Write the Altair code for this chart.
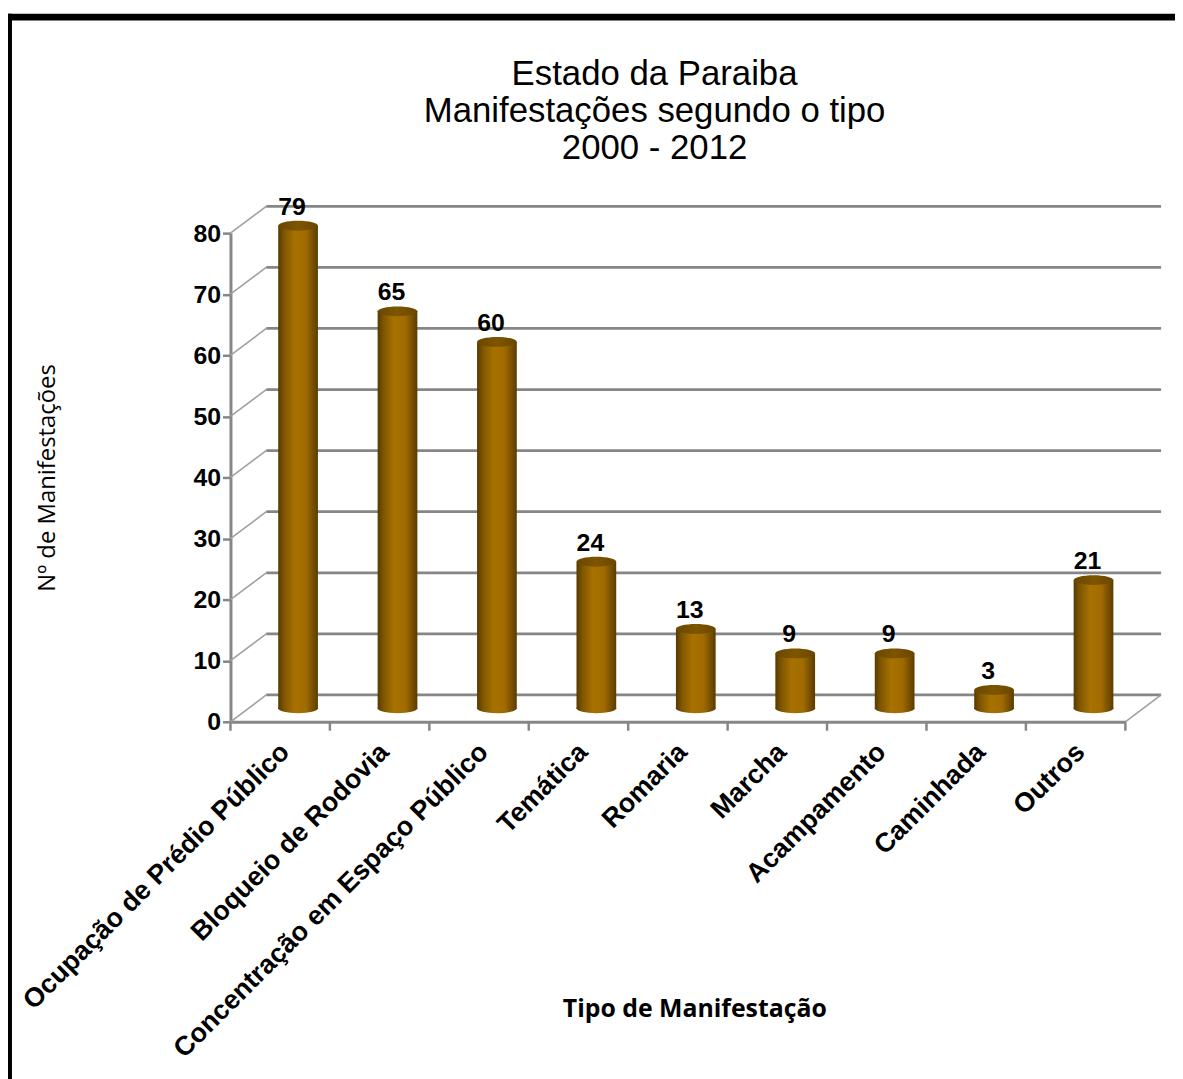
import altair as alt
import pandas as pd

categorias = ["Ocupação de Prédio Público", "Bloqueio de Rodovia", "Concentração em Espaço Público",
              "Temática", "Romaria", "Marcha", "Acampamento", "Caminhada", "Outros"]
valores = [79, 65, 60, 24, 13, 9, 9, 3, 21]
y_ticks = [0, 10, 20, 30, 40, 50, 60, 70, 80]
titulo = ["Estado da Paraiba", "Manifestações segundo o tipo", "2000 - 2012"]

W, H = 901, 492
DX, DY = 36, -27      # depth of the 3D box
CX, CY = 18, -13.5    # cylinders sit mid-depth
BAND = W / len(categorias)
GRAY = "#868686"
FONT = "Liberation Sans"

df = pd.DataFrame({"Tipo": categorias, "N": valores})
grid = pd.DataFrame({"N": y_ticks})
one = pd.DataFrame({"k": [0]})

xs = alt.Scale(domain=categorias, paddingInner=0, paddingOuter=0)
ys = alt.Scale(domain=[0, 80], nice=False)

xaxis = alt.Axis(title="Tipo de Manifestação", labelAngle=-45, labelAlign="right",
                 labelBaseline="middle", labelFont=FONT, labelFontSize=27,
                 labelFontWeight="bold", labelColor="black", labelPadding=26, labelOffset=5,
                 labelLimit=600, ticks=False, domainColor=GRAY, domainWidth=3,
                 titleFont="Open Sans", titleFontSize=25, titleFontWeight="bold",
                 titleColor="black", titleX=467, titleY=289,
                 titleAlign="center", titleBaseline="middle")
yaxis = alt.Axis(values=y_ticks, title="Nº de Manifestações", grid=False,
                 labelFont=FONT, labelFontSize=25, labelFontWeight="bold",
                 labelColor="black", labelPadding=2, tickColor=GRAY, tickSize=8,
                 tickWidth=2.5, domainColor=GRAY, domainWidth=3,
                 titleFont="Open Sans", titleFontSize=24, titleFontWeight="normal",
                 titleColor="black", titleAngle=-90, titleX=-184, titleY=246,
                 titleAlign="center", titleBaseline="middle")

body = alt.Gradient(gradient="linear", x1=0, x2=1, y1=0, y2=0, stops=[
    alt.GradientStop(color="#573a00", offset=0),
    alt.GradientStop(color="#7f5600", offset=0.15),
    alt.GradientStop(color="#a87200", offset=0.42),
    alt.GradientStop(color="#a06a00", offset=0.7),
    alt.GradientStop(color="#5a3c00", offset=1)])
top = alt.Gradient(gradient="linear", x1=0, x2=1, y1=0, y2=0, stops=[
    alt.GradientStop(color="#6a4700", offset=0),
    alt.GradientStop(color="#7e5500", offset=0.5),
    alt.GradientStop(color="#6a4700", offset=1)])
ELL = "M-1,0A1,0.25,0,1,0,1,0A1,0.25,0,1,0,-1,0Z"

xenc = alt.X("Tipo:N", scale=xs, sort=categorias, axis=xaxis)
yenc = alt.Y("N:Q", scale=ys, axis=yaxis)

# frame border
border_top = alt.Chart(one).mark_rule(color="black", strokeWidth=7).encode(
    x=alt.value(-228), x2=alt.value(960), y=alt.value(-217.5))
border_left = alt.Chart(one).mark_rule(color="black", strokeWidth=7).encode(
    x=alt.value(-223.5), y=alt.value(-221), y2=alt.value(860))

# back wall gridlines
back = alt.Chart(grid).mark_rule(color=GRAY, strokeWidth=2.8, yOffset=DY).encode(
    y=yenc, x=alt.value(DX), x2=alt.value(W + DX))
# side wall oblique lines
side = alt.Chart(grid).mark_rule(color="#a0a0a0", strokeWidth=1.6, y2Offset=DY).encode(
    y=yenc, y2=alt.Y2("N"), x=alt.value(0), x2=alt.value(DX))
floor_right = alt.Chart(one).mark_rule(color="#a0a0a0", strokeWidth=1.6, y2Offset=DY).encode(
    y=alt.datum(0), y2=alt.datum(0), x=alt.value(W), x2=alt.value(W + DX))

# category boundary ticks
xticks = alt.Chart(df).mark_rule(color=GRAY, strokeWidth=2.5, xOffset=-BAND / 2).encode(
    x=xenc, y=alt.value(H), y2=alt.value(H + 9))
xtick_end = alt.Chart(one).mark_rule(color=GRAY, strokeWidth=2.5).encode(
    x=alt.value(W), y=alt.value(H), y2=alt.value(H + 9))

base = alt.Chart(df)
bottom_ell = base.mark_point(shape=ELL, size=1600, filled=True, fill=body, opacity=1,
                             strokeWidth=0, xOffset=CX, yOffset=CY).encode(
    x=xenc, y=alt.datum(0))
bars = base.mark_bar(width=40, fill=body, xOffset=CX, yOffset=CY, y2Offset=CY).encode(
    x=xenc, y=yenc)
top_ell = base.mark_point(shape=ELL, size=1600, filled=True, fill=top, opacity=1,
                          strokeWidth=0, xOffset=CX, yOffset=CY).encode(
    x=xenc, y=yenc)
labels = base.mark_text(font=FONT, fontSize=25, fontWeight="bold", color="black",
                        baseline="bottom", xOffset=12, yOffset=CY - 6).encode(
    x=xenc, y=yenc, text="N:Q")

title = alt.Chart(one).mark_text(text=titulo, font=FONT, fontSize=35, lineHeight=37,
                                 align="center", baseline="alphabetic", color="black").encode(
    x=alt.value(427), y=alt.value(-149))

chart = alt.layer(border_top, border_left, back, side, floor_right, xticks, xtick_end,
                  bottom_ell, bars, top_ell, labels, title).properties(
    width=W, height=H,
    autosize=alt.AutoSizeParams(type="none"),
    padding={"left": 224, "top": 223, "right": 50, "bottom": 356},
    background="white",
).configure_view(stroke=None)

chart.save("out.html", embed_options={"renderer": "svg", "actions": False})
